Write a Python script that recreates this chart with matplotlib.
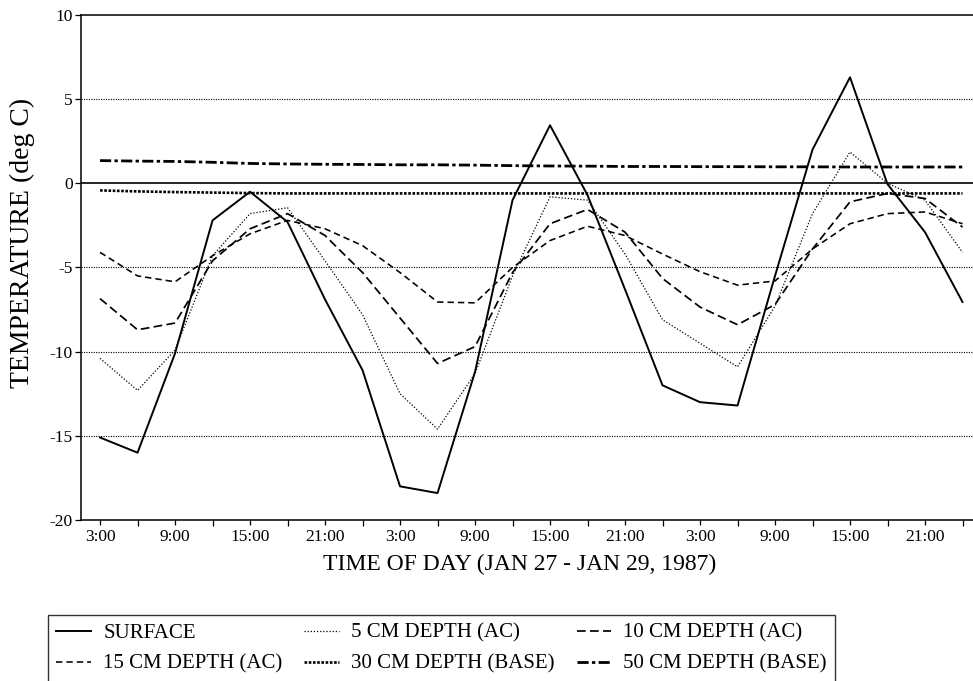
import matplotlib
matplotlib.use("Agg")
import matplotlib.pyplot as plt
from matplotlib.ticker import FixedLocator

plt.rcParams['font.family'] = ['Liberation Serif', 'DejaVu Serif']

# hours since midnight Jan 27, one reading every 3 hours
hours = [3, 6, 9, 12, 15, 18, 21, 24, 27, 30, 33, 36,
         39, 42, 45, 48, 51, 54, 57, 60, 63, 66, 69, 72]

surface = [-15.1, -16.0, -10.1, -2.2, -0.5, -2.3, -6.9, -11.1, -18.0, -18.4, -11.2, -1.0,
           3.45, -0.7, -6.3, -12.0, -13.0, -13.2, -5.5, 2.0, 6.3, -0.05, -2.9, -7.05]
depth_5 = [-10.4, -12.3, -9.9, -4.3, -1.8, -1.45, -4.6, -7.8, -12.5, -14.6, -11.3, -5.5,
           -0.8, -1.0, -4.2, -8.1, -9.5, -10.9, -7.3, -1.8, 1.86, 0.0, -1.0, -4.1]
depth_10 = [-6.85, -8.7, -8.3, -4.6, -2.7, -1.8, -3.1, -5.3, -8.0, -10.7, -9.7, -5.3,
            -2.4, -1.55, -2.9, -5.65, -7.35, -8.4, -7.2, -3.9, -1.1, -0.6, -0.9, -2.6]
depth_15 = [-4.1, -5.5, -5.85, -4.3, -3.0, -2.2, -2.7, -3.7, -5.3, -7.05, -7.1, -5.0,
            -3.4, -2.55, -3.1, -4.2, -5.25, -6.05, -5.8, -3.9, -2.4, -1.8, -1.7, -2.4]
depth_30 = [-0.42, -0.48, -0.52, -0.55, -0.58, -0.6, -0.6, -0.6, -0.6, -0.6, -0.6, -0.6,
            -0.6, -0.6, -0.6, -0.6, -0.6, -0.6, -0.6, -0.6, -0.6, -0.6, -0.6, -0.6]
depth_50 = [1.35, 1.32, 1.3, 1.25, 1.18, 1.15, 1.13, 1.12, 1.1, 1.1, 1.08, 1.05,
            1.03, 1.02, 1.0, 1.0, 0.99, 0.99, 0.98, 0.98, 0.97, 0.97, 0.97, 0.97]

major_hours = [3, 9, 15, 21, 27, 33, 39, 45, 51, 57, 63, 69]
minor_hours = [6, 12, 18, 24, 30, 36, 42, 48, 54, 60, 66, 72]
tick_labels = ["3:00", "9:00", "15:00", "21:00"] * 3
y_ticks = [-20, -15, -10, -5, 0, 5, 10]

fig = plt.figure(figsize=(9.73, 6.81), dpi=100)
ax = fig.add_axes([0.0833, 0.2364, 0.9167, 0.7416])

# reference lines
for y in [5, -5, -10, -15]:
    ax.axhline(y, color="black", lw=0.8, ls=(0, (1, 1.2)), zorder=1)
ax.axhline(0, color="black", lw=1.2, zorder=1)

series = [
    ("SURFACE", surface, "-", 1.4),
    ("5 CM DEPTH (AC)", depth_5, (0, (1, 1.5)), 0.9),
    ("10 CM DEPTH (AC)", depth_10, (0, (5, 2.5)), 1.25),
    ("15 CM DEPTH (AC)", depth_15, (0, (4, 2.5)), 1.15),
    ("30 CM DEPTH (BASE)", depth_30, (0, (1, 0.6)), 1.9),
    ("50 CM DEPTH (BASE)", depth_50, (0, (4, 1.2, 1.2, 1.2)), 2.0),
]
handles = {}
for name, vals, style, lw in series:
    line, = ax.plot(hours, vals, color="black", ls=style, lw=lw, label=name, zorder=3)
    handles[name] = line

ax.set_xlim(1.48, 72.84)
ax.set_ylim(-20, 10)
ax.set_yticks(y_ticks)
ax.set_yticklabels([str(v) for v in y_ticks])
ax.xaxis.set_major_locator(FixedLocator(major_hours))
ax.xaxis.set_minor_locator(FixedLocator(minor_hours))
ax.set_xticklabels(tick_labels)
ax.tick_params(axis="x", which="major", length=3.5, width=0.9, pad=3, labelsize=12.5)
ax.tick_params(axis="x", which="minor", length=4.5, width=0.9)
ax.tick_params(axis="y", length=4, width=0.9, pad=2, labelsize=12.5)

ax.spines["right"].set_visible(False)
for s in ["left", "bottom", "top"]:
    ax.spines[s].set_linewidth(1.1)

ax.set_xlabel("TIME OF DAY (JAN 27 - JAN 29, 1987)", fontsize=17)
ax.xaxis.set_label_coords(0.492, -0.068)
ax.set_ylabel("TEMPERATURE (deg C)", fontsize=20)
ax.yaxis.set_label_coords(-0.052, 0.548)

# legend reads row by row in the original
order = ["SURFACE", "15 CM DEPTH (AC)", "5 CM DEPTH (AC)", "30 CM DEPTH (BASE)",
         "10 CM DEPTH (AC)", "50 CM DEPTH (BASE)"]
leg = fig.legend([handles[n] for n in order], order, ncol=3, loc="upper left",
                 bbox_to_anchor=(48 / 973, 1 - 615 / 681), fontsize=15,
                 frameon=True, fancybox=False, edgecolor="black",
                 handlelength=1.65, handletextpad=0.6, columnspacing=1.05,
                 borderpad=0.4, labelspacing=0.55, borderaxespad=0)
leg.get_frame().set_linewidth(1.0)

fig.savefig("out.png", dpi=100)
